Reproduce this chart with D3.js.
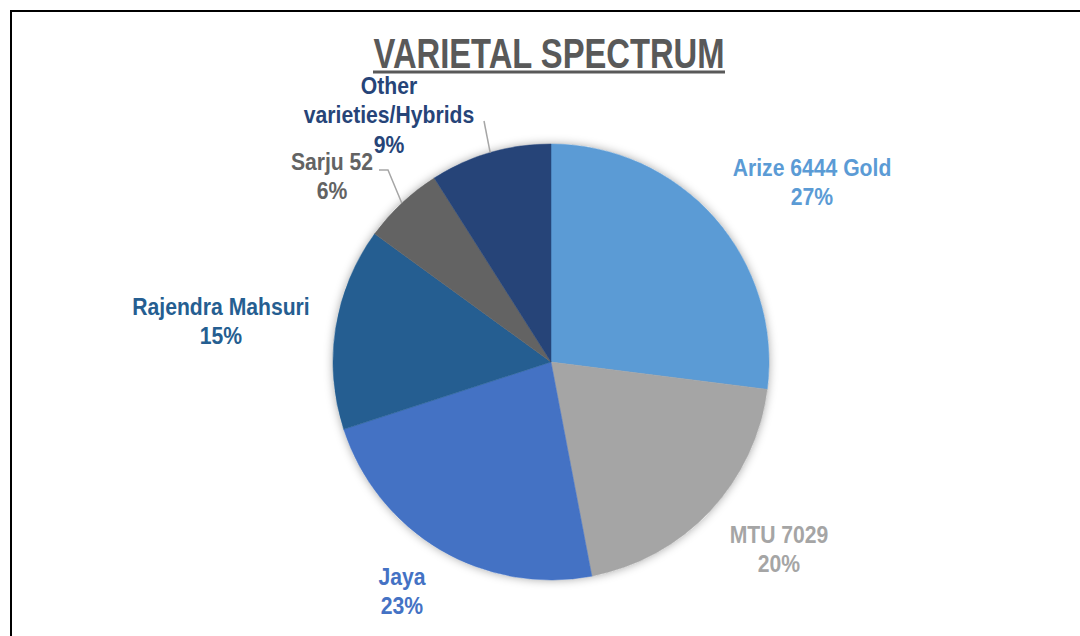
<!DOCTYPE html>
<html><head><meta charset="utf-8">
<script src="https://cdn.jsdelivr.net/npm/d3@7"></script>
<style>html,body{margin:0;padding:0;background:#fff;}svg{display:block;}</style>
</head><body>
<svg id="c" width="1080" height="636"></svg>
<script>
const categories = ["Arize 6444 Gold","MTU 7029","Jaya","Rajendra Mahsuri","Sarju 52","Other varieties/Hybrids"];
const values = [27, 20, 23, 15, 6, 9];
const colors = ["#5B9BD5","#A5A5A5","#4472C4","#255E91","#636363","#264478"];
const labelLines = [["Arize 6444 Gold"],["MTU 7029"],["Jaya"],["Rajendra Mahsuri"],["Sarju 52"],["Other","varieties/Hybrids"]];
const title = "VARIETAL SPECTRUM";

// layout (not data)
const W = 1080, H = 636, cx = 551, cy = 362, R = 218;
const labelPos = [ // center x, baseline of first line
  {x: 812, y: 176}, {x: 779, y: 543}, {x: 402, y: 585},
  {x: 221, y: 315}, {x: 332, y: 170}, {x: 389, y: 94}
];
const leaderStart = {4: [[379,170],[388,170]], 5: [[484,121]]};

const svg = d3.select("#c");
svg.append("rect").attr("width", W).attr("height", H).attr("fill", "#fff");
svg.append("path").attr("d", `M11,${H+5} L11,11 L${W+5},11`).attr("fill","none").attr("stroke","#000").attr("stroke-width",2);

const defs = svg.append("defs");
const f = defs.append("filter").attr("id","sh").attr("x","-20%").attr("y","-20%").attr("width","140%").attr("height","140%");
f.append("feDropShadow").attr("dx",0).attr("dy",0).attr("stdDeviation",5).attr("flood-color","#000").attr("flood-opacity",0.35);

// title
svg.append("text").attr("x", 549).attr("y", 68).attr("text-anchor","middle")
  .attr("font-family","'Liberation Sans Narrow','Liberation Sans',Arial,sans-serif")
  .attr("font-size", 43).attr("font-weight","bold").attr("fill","#595959")
  .attr("textLength", 351).attr("lengthAdjust","spacingAndGlyphs").text(title);
svg.append("rect").attr("x", 373).attr("y", 70.5).attr("width", 352).attr("height", 3).attr("fill","#595959");

const pie = d3.pie().sort(null).value(d => d)(values);
const arc = d3.arc().innerRadius(0).outerRadius(R);
const g = svg.append("g").attr("transform", `translate(${cx},${cy})`);
g.append("circle").attr("r", R).attr("fill","#fff").attr("filter","url(#sh)");
g.selectAll("path.s").data(pie).join("path").attr("class","s")
  .attr("d", arc).attr("fill", (d,i) => colors[i]).attr("stroke", (d,i) => colors[i]).attr("stroke-width",0.5);

// leader lines
Object.keys(leaderStart).forEach(k => {
  const d = pie[+k];
  const a = (d.startAngle + d.endAngle) / 2;
  const end = [cx + R * Math.sin(a), cy - R * Math.cos(a)];
  const pts = leaderStart[k].concat([end]);
  svg.append("path").attr("d", d3.line()(pts)).attr("fill","none").attr("stroke","#A6A6A6").attr("stroke-width",1.5);
});

// labels (condensed by horizontal scaling)
const lh = 29.5, sx = 0.9;
categories.forEach((c, i) => {
  const lines = labelLines[i].concat([values[i] + "%"]);
  const tx = svg.append("g").attr("transform", `translate(${labelPos[i].x},${labelPos[i].y}) scale(${sx},1)`)
    .append("text").attr("text-anchor","middle")
    .attr("font-family","'Liberation Sans',Arial,sans-serif").attr("font-weight","bold")
    .attr("font-size", 23.5).attr("fill", colors[i]);
  lines.forEach((l, j) => {
    tx.append("tspan").attr("x", 0).attr("y", j * lh).text(l);
  });
});
</script>
</body></html>
